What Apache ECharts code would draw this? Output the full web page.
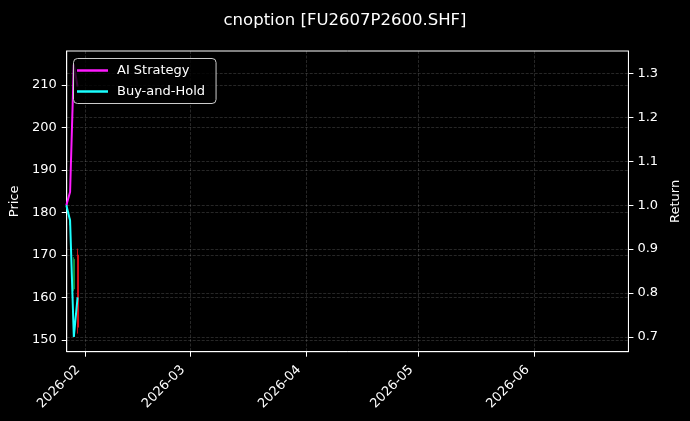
<!DOCTYPE html>
<html>
<head>
<meta charset="utf-8">
<script src="https://cdn.jsdelivr.net/npm/echarts@6/dist/echarts.min.js"></script>
<style>
html,body{margin:0;padding:0;background:#000;}
#chart{width:690px;height:421px;}
</style>
</head>
<body>
<div id="chart"></div>
<script>
// ---- data ----
const dates = ['2026-01-27', '2026-01-28', '2026-01-29', '2026-01-30'];
// candles: [open, close, low, high]
const candles = [
  [182, 182.5, 181.5, 183],
  [178.5, 177.5, 177, 179],
  [169, 162, 161.5, 169.5],
  [153, 170, 151.5, 171.5]
];
const aiStrategy = [1.0, 1.03, 1.32, 1.27];
const buyHold = [1.0, 0.965, 0.70, 0.79];
const priceTicks = [150, 160, 170, 180, 190, 200, 210];
const returnTicks = [0.7, 0.8, 0.9, 1.0, 1.1, 1.2, 1.3];
const monthTicks = ['2026-02-01', '2026-03-01', '2026-04-01', '2026-05-01', '2026-06-01'];

function ts(s){ const p = s.split('-').map(Number); return Date.UTC(p[0], p[1]-1, p[2]); }
const monthTs = monthTicks.map(ts);
const dateTs = dates.map(ts);
const xMin = ts('2026-01-27') + 2.4*3600*1000;
const xMax = ts('2026-06-26') + 2.4*3600*1000;

const font = 'DejaVu Sans';
const gridLine = {show:true, lineStyle:{color:'rgba(255,255,255,0.22)', width:0.7, type:[3,1.5]}};

const chart = echarts.init(document.getElementById('chart'));
chart.setOption({
  backgroundColor:'#000',
  animation:false,
  textStyle:{fontFamily:font},
  title:{
    text:'cnoption [FU2607P2600.SHF]', left:'center', top:7,
    textStyle:{color:'#fff', fontSize:16.5, fontWeight:'normal', fontFamily:font}
  },
  legend:{
    orient:'vertical', left:73.5, top:58.5,
    data:['AI Strategy','Buy-and-Hold'],
    icon:'rect', itemWidth:31, itemHeight:2.5, itemGap:0,
    padding:[1.5,11,1.5,3.5],
    backgroundColor:'rgba(0,0,0,0.8)', borderColor:'#cccccc', borderWidth:1, borderRadius:4,
    textStyle:{color:'#fff', fontSize:13, lineHeight:21, fontFamily:font, padding:[0,0,0,4]}
  },
  grid:{left:66.5, right:60.6, top:51, bottom:69.3, show:true, borderColor:'#fff', borderWidth:1, backgroundColor:'transparent'},
  xAxis:{
    type:'value', min:xMin, max:xMax,
    axisLine:{show:true, lineStyle:{color:'#fff', width:1}},
    axisTick:{show:true, length:5, lineStyle:{color:'#fff'}, customValues:monthTs},
    axisLabel:{color:'#fff', fontSize:13, rotate:45, margin:9, padding:[0,10,0,0], fontFamily:font, customValues:monthTs,
      formatter:function(v){ const d=new Date(v); const m=d.getUTCMonth()+1; return d.getUTCFullYear()+'-'+(m<10?'0':'')+m; }},
    splitLine:gridLine
  },
  yAxis:[{
    type:'value', position:'left', min:147.25, max:218.0,
    name:'Price', nameLocation:'middle', nameGap:41, nameRotate:90,
    nameTextStyle:{color:'#fff', fontSize:13, fontFamily:font},
    axisLine:{show:true, lineStyle:{color:'#fff', width:1}},
    axisTick:{show:true, length:5, lineStyle:{color:'#fff'}, customValues:priceTicks},
    axisLabel:{color:'#fff', fontSize:13, margin:10, fontFamily:font, customValues:priceTicks,
      formatter:function(v){ return String(Math.round(v)); }},
    splitLine:gridLine
  },{
    type:'value', position:'right', min:0.6666, max:1.3507,
    name:'Return', nameLocation:'middle', nameGap:35, nameRotate:90,
    nameTextStyle:{color:'#fff', fontSize:13, fontFamily:font},
    axisLine:{show:true, lineStyle:{color:'#fff', width:1}},
    axisTick:{show:true, length:5, lineStyle:{color:'#fff'}, customValues:returnTicks},
    axisLabel:{color:'#fff', fontSize:13, margin:9, fontFamily:font, customValues:returnTicks,
      formatter:function(v){ return v.toFixed(1); }},
    splitLine:gridLine
  }],
  series:[{
    name:'Price', type:'candlestick', yAxisIndex:0, z:2, barWidth:1.5,
    data:dateTs.map((d,i)=>[d].concat(candles[i])),
    encode:{x:0, y:[1,2,3,4]},
    itemStyle:{color:'#e8141c', color0:'#10a040', borderColor:'#e8141c', borderColor0:'#10a040', borderWidth:0.8}
  },{
    name:'AI Strategy', type:'line', yAxisIndex:1, z:3, symbol:'none',
    lineStyle:{color:'#ff1aff', width:2}, itemStyle:{color:'#ff1aff'},
    data:dateTs.map((d,i)=>[d, aiStrategy[i]])
  },{
    name:'Buy-and-Hold', type:'line', yAxisIndex:1, z:3, symbol:'none',
    lineStyle:{color:'#1affff', width:2}, itemStyle:{color:'#1affff'},
    data:dateTs.map((d,i)=>[d, buyHold[i]])
  }]
});
</script>
</body>
</html>
